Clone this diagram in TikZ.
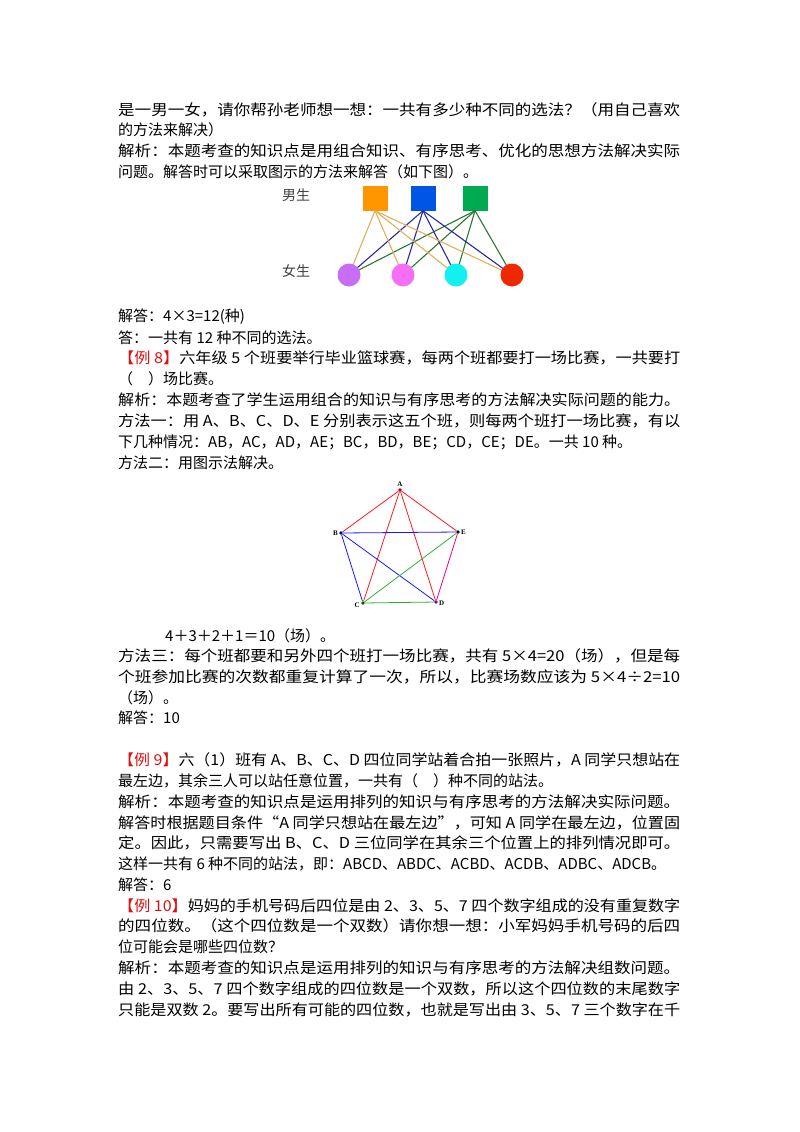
\documentclass[tikz,border=0pt]{standalone}
\usepackage{fontspec}
\setmainfont{Noto Sans CJK SC}
\newfontfamily\lat{Liberation Serif}
\usepackage{graphicx}
\usetikzlibrary{positioning}
\newcommand{\fl}[1]{\resizebox{562pt}{\height}{#1}}
\definecolor{redt}{HTML}{E01010}
\begin{document}
\begin{tikzpicture}[x=1pt,y=-1pt,
  tl/.style={anchor=west,inner sep=0pt,font=\fontsize{15}{18}\selectfont},
  box/.style={minimum size=25pt,inner sep=0pt},
  circ/.style={circle,minimum size=23pt,inner sep=0pt},
  vx/.style={circle,fill,inner sep=1.3pt},
  vl/.style={font=\lat\fontsize{7}{8}\selectfont\bfseries,inner sep=1pt}]
\useasboundingbox (0,0) rectangle (800,1132);
\node[tl] (l1) at (118,110) {\fl{是一男一女，请你帮孙老师想一想：一共有多少种不同的选法？（用自己喜欢}};
\node[tl] (l2) at (118,130) {的方法来解决）};
\node[tl] (l3) at (118,151) {\fl{解析：本题考查的知识点是用组合知识、有序思考、优化的思想方法解决实际}};
\node[tl] (l4) at (118,172) {问题。解答时可以采取图示的方法来解答（如下图）。};
\node[tl,font=\fontsize{14}{16}\selectfont,text=black!75] (nan) at (282,195) {男生};
\node[tl,font=\fontsize{14}{16}\selectfont,text=black!75] (nv) at (282,271) {女生};
\node[box,fill={rgb,255:red,255;green,150;blue,0}] (b1) at (375,198) {};
\node[box,fill={rgb,255:red,0;green,85;blue,230}] (b2) at (423,198) {};
\node[box,fill={rgb,255:red,0;green,170;blue,80}] (b3) at (475,198) {};
\node[circ] (g1) at (349,275) {};
\node[circ] (g2) at (403,275) {};
\node[circ] (g3) at (456,275) {};
\node[circ] (g4) at (512,275) {};
\foreach \g in {g1,g2,g3,g4}{
  \draw[color={rgb,255:red,225;green,175;blue,90},line width=1.1pt] (b1.south) -- (\g.center);
  \draw[color={rgb,255:red,40;green,40;blue,160},line width=1.1pt] (b2.south) -- (\g.center);
  \draw[color={rgb,255:red,40;green,120;blue,50},line width=1.1pt] (b3.south) -- (\g.center);
}
\fill[color={rgb,255:red,200;green,110;blue,245}] (g1) circle (11.5pt);
\fill[color={rgb,255:red,245;green,110;blue,245}] (g2) circle (11.5pt);
\fill[color={rgb,255:red,20;green,240;blue,240}] (g3) circle (11.5pt);
\fill[color={rgb,255:red,240;green,40;blue,0}] (g4) circle (11.5pt);
\node[tl] (l5) at (118,317) {解答：4×3=12(种)};
\node[tl] (l6) at (118,338) {答：一共有 12 种不同的选法。};
\node[tl] (l7) at (118,358) {\fl{\textcolor{redt}{【例 8】}六年级 5 个班要举行毕业篮球赛，每两个班都要打一场比赛，一共要打}};
\node[tl] (l8) at (118,379) {（　）场比赛。};
\node[tl] (l9) at (118,400) {\fl{解析：本题考查了学生运用组合的知识与有序思考的方法解决实际问题的能力。}};
\node[tl] (l10) at (118,421) {\fl{方法一：用 A、B、C、D、E 分别表示这五个班，则每两个班打一场比赛，有以}};
\node[tl] (l11) at (118,442) {下几种情况：AB，AC，AD，AE；BC，BD，BE；CD，CE；DE。一共 10 种。};
\node[tl] (l12) at (118,463) {方法二：用图示法解决。};
% pentagon
\node[vx,color={rgb,255:red,170;green,0;blue,0}] (A) at (400,490) {};
\node[vx,color={rgb,255:red,0;green,0;blue,140}] (B) at (341,533) {};
\node[vx,color=black] (E) at (458,532) {};
\node[vx,color={rgb,255:red,0;green,90;blue,0}] (C) at (363,603) {};
\node[vx,color={rgb,255:red,130;green,0;blue,130}] (D) at (436,602) {};
\begin{scope}[line width=0.8pt]
\draw[red!90] (A)--(B) (A)--(E) (A)--(C) (A)--(D);
\draw[blue!90] (B)--(E) (B)--(D) (B)--(C);
\draw[green!60!black!80] (C)--(E) (C)--(D);
\draw[magenta] (D)--(E);
\end{scope}
\node[vl,above=0pt of A] (la) {A};
\node[vl,left=0pt of B] (lb) {B};
\node[vl,right=0pt of E] (le) {E};
\node[vl,left=0pt of C,yshift=-2pt] (lc) {C};
\node[vl,right=0pt of D,yshift=-1pt] (ld) {D};
\node[tl] (l13) at (165,636) {4＋3＋2＋1＝10（场）。};
\node[tl] (l14) at (118,656) {\fl{方法三：每个班都要和另外四个班打一场比赛，共有 5×4=20（场），但是每}};
\node[tl] (l15) at (118,677) {\fl{个班参加比赛的次数都重复计算了一次，所以，比赛场数应该为 5×4÷2=10}};
\node[tl] (l16) at (118,698) {（场）。};
\node[tl] (l17) at (118,718) {解答：10};
\node[tl] (l18) at (118,760) {\fl{\textcolor{redt}{【例 9】}六（1）班有 A、B、C、D 四位同学站着合拍一张照片，A 同学只想站在}};
\node[tl] (l19) at (118,781) {最左边，其余三人可以站任意位置，一共有（　）种不同的站法。};
\node[tl] (l20) at (118,802) {\fl{解析：本题考查的知识点是运用排列的知识与有序思考的方法解决实际问题。}};
\node[tl] (l21) at (118,823) {\fl{解答时根据题目条件“A 同学只想站在最左边”，可知 A 同学在最左边，位置固}};
\node[tl] (l22) at (118,843) {\fl{定。因此，只需要写出 B、C、D 三位同学在其余三个位置上的排列情况即可。}};
\node[tl] (l23) at (118,864) {这样一共有 6 种不同的站法，即：ABCD、ABDC、ACBD、ACDB、ADBC、ADCB。};
\node[tl] (l24) at (118,885) {解答：6};
\node[tl] (l25) at (118,906) {\fl{\textcolor{redt}{【例 10】}妈妈的手机号码后四位是由 2、3、5、7 四个数字组成的没有重复数字}};
\node[tl] (l26) at (118,926) {\fl{的四位数。（这个四位数是一个双数）请你想一想：小军妈妈手机号码的后四}};
\node[tl] (l27) at (118,947) {位可能会是哪些四位数？};
\node[tl] (l28) at (118,968) {\fl{解析：本题考查的知识点是运用排列的知识与有序思考的方法解决组数问题。}};
\node[tl] (l29) at (118,989) {\fl{由 2、3、5、7 四个数字组成的四位数是一个双数，所以这个四位数的末尾数字}};
\node[tl] (l30) at (118,1010) {\fl{只能是双数 2。要写出所有可能的四位数，也就是写出由 3、5、7 三个数字在千}};
\end{tikzpicture}
\end{document}
